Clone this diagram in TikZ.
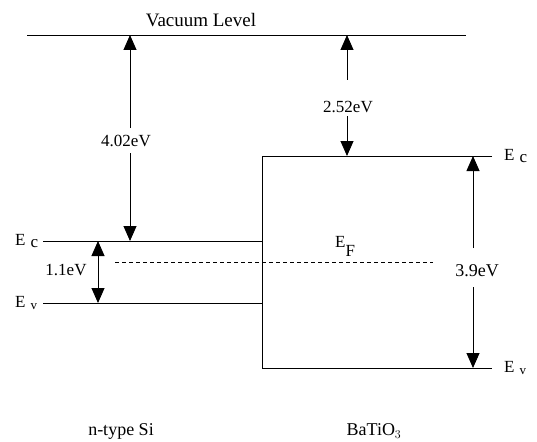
\documentclass[tikz,border=0pt]{standalone}
\usepackage{fontspec}
\setmainfont{Liberation Serif}
\usetikzlibrary{arrows.meta}
\begin{document}
\begin{tikzpicture}[x=1pt,y=-1pt,
  lvl/.style={line width=0.9pt},
  arr/.style={line width=0.9pt,-{Triangle[length=15pt,width=13pt]}},
  lbl/.style={font=\fontsize{17}{19}\selectfont, inner sep=0pt},
  big/.style={font=\fontsize{18}{20}\selectfont, inner sep=0pt}]
\useasboundingbox (0,0) rectangle (537,441);
% coordinates
\coordinate (vacL) at (27,35);
\coordinate (vacR) at (466,35);
\coordinate (siCL) at (43,241);
\coordinate (siCR) at (262,241);
\coordinate (siVL) at (43,303);
\coordinate (siVR) at (262,303);
\coordinate (btC) at (262,156);
\coordinate (btCR) at (492,156);
\coordinate (btV) at (262,368);
\coordinate (btVR) at (492,368);
\coordinate (efL) at (115,262);
\coordinate (efR) at (433,262);
% levels
\draw[lvl] (vacL) -- (vacR);
\draw[lvl] (siCL) -- (siCR);
\draw[lvl] (siVL) -- (siVR);
\draw[lvl] (btCR) -- (btC) -- (btV) -- (btVR);
\draw[line width=0.9pt, dash pattern=on 4pt off 3pt] (efL) -- (efR);
% labels
\node[big,font=\fontsize{19}{21}\selectfont] (vac) at (201,20) {Vacuum Level};
\node[lbl] (t402) at (126,141) {4.02eV};
\node[lbl] (t252) at (348,107) {2.52eV};
\node[lbl] (t11) at (66,270) {1.1eV};
\node[big] (t39) at (477,271) {3.9eV};
\node[lbl,anchor=west] (siEc) at (15,241) {E\hspace{5pt}\raisebox{-2pt}{c}};
\node[lbl,anchor=west] (siEv) at (15,303) {E\hspace{5pt}\raisebox{-2pt}{\fontsize{13}{15}\selectfont v}};
\node[lbl,anchor=west] (btEc) at (504,156) {E\hspace{5pt}\raisebox{-2pt}{c}};
\node[lbl,anchor=west] (btEv) at (504,368) {E\hspace{5pt}\raisebox{-2pt}{\fontsize{13}{15}\selectfont v}};
\node[lbl,anchor=west] (ef) at (335,246) {E\raisebox{-9pt}{F}};
\node[big] (si) at (121,431) {n-type Si};
\node[big] (bt) at (374,431) {BaTiO$_3$};
% arrows
\coordinate (a1t) at (130,35);
\coordinate (a1b) at (130,241);
\draw[arr] (130,128) -- (a1t);
\draw[arr] (130,153) -- (a1b);
\coordinate (a2t) at (347,35);
\coordinate (a2b) at (347,156);
\draw[arr] (347,80) -- (a2t);
\draw[arr] (347,116) -- (a2b);
\coordinate (a3t) at (98,241);
\coordinate (a3b) at (98,303);
\draw[arr,{Triangle[length=15pt,width=13pt]}-{Triangle[length=15pt,width=13pt]}] (a3t) -- (a3b);
\coordinate (a4t) at (473,156);
\coordinate (a4b) at (473,368);
\draw[arr] (473,248) -- (a4t);
\draw[arr] (473,287) -- (a4b);
\end{tikzpicture}
\end{document}
